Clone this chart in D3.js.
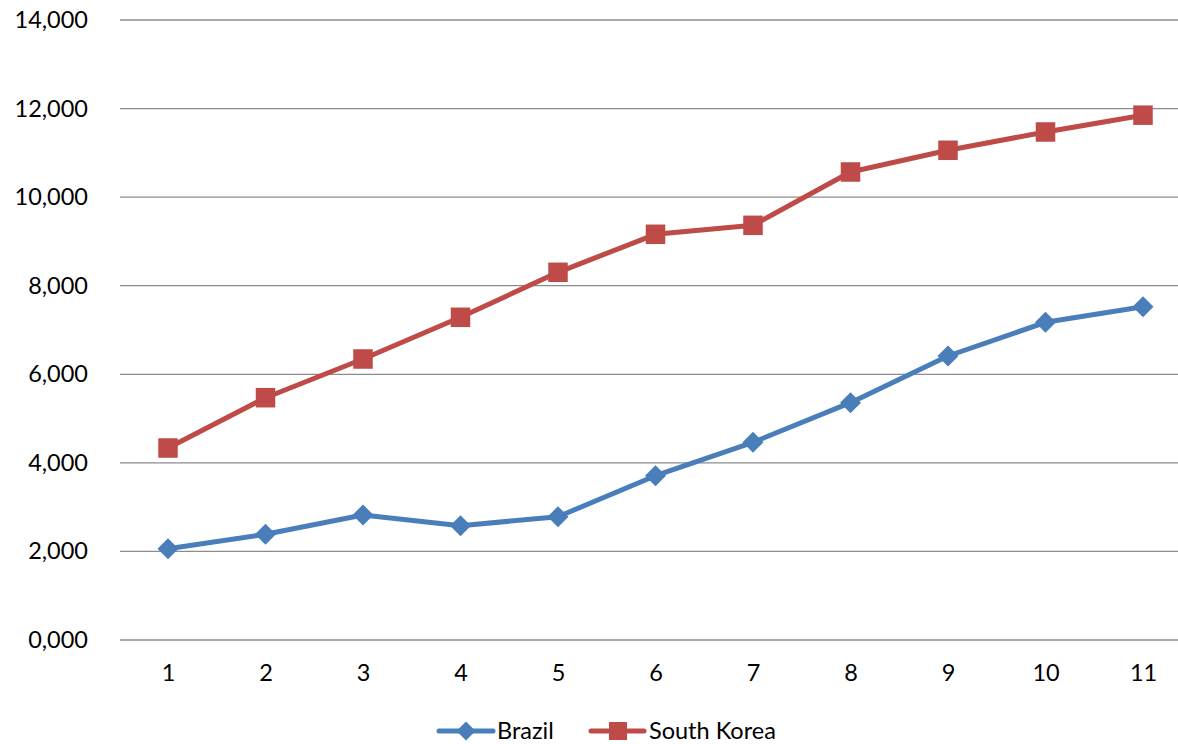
<!DOCTYPE html>
<html>
<head>
<meta charset="utf-8">
<script src="https://cdn.jsdelivr.net/npm/d3@7"></script>
<style>
  html, body { margin: 0; padding: 0; background: #fff; }
  svg text { font-family: Lato, "Open Sans", sans-serif; fill: #000; }
</style>
</head>
<body>
<svg id="chart" width="1178" height="744"></svg>
<script>
// Categories along the x axis
const categories = [1, 2, 3, 4, 5, 6, 7, 8, 9, 10, 11];

// Series values
const brazil = [2062, 2387, 2823, 2581, 2784, 3710, 4464, 5359, 6413, 7174, 7526];
const southKorea = [4335, 5471, 6345, 7287, 8303, 9161, 9364, 10568, 11058, 11471, 11851];

// Y axis tick values
const yTicks = [0, 2000, 4000, 6000, 8000, 10000, 12000, 14000];

const seriesNames = ["Brazil", "South Korea"];

const svg = d3.select("#chart");
const plotLeft = 120, plotRight = 1178, plotTop = 20, plotBottom = 640;
const fontSize = 23.5;

const x = d3.scalePoint().domain(categories).range([168, 1143]);
const y = d3.scaleLinear().domain([0, 14000]).range([plotBottom, plotTop]);

// Horizontal gridlines
svg.append("g").selectAll("line").data(yTicks).join("line")
  .attr("x1", plotLeft).attr("x2", plotRight)
  .attr("y1", d => y(d)).attr("y2", d => y(d))
  .attr("stroke", "#8c8c8c").attr("stroke-width", 1.3);

// Y axis labels
const yAxis = d3.axisLeft(y).tickValues(yTicks).tickSize(0).tickPadding(0)
  .tickFormat(d => d === 0 ? "0,000" : d3.format(",")(d));
const gy = svg.append("g").attr("transform", "translate(88,0)").call(yAxis);
gy.select(".domain").remove();
gy.selectAll("text").attr("font-size", fontSize).attr("font-family", "Lato, 'Open Sans', sans-serif").attr("fill", "#000");

// X axis labels
const xAxis = d3.axisBottom(x).tickSize(0).tickPadding(0);
const gx = svg.append("g").attr("transform", `translate(0,${plotBottom + 24})`).call(xAxis);
gx.select(".domain").remove();
gx.selectAll("text").attr("font-size", fontSize).attr("font-family", "Lato, 'Open Sans', sans-serif").attr("fill", "#000");

const blue = "#4a7ebb", red = "#be4b48";
const line = d3.line().x((d, i) => x(categories[i])).y(d => y(d));

function diamond(g, cx, cy, r) {
  g.append("path")
    .attr("d", `M${cx},${cy - r}L${cx + r},${cy}L${cx},${cy + r}L${cx - r},${cy}Z`)
    .attr("fill", blue);
}
function square(g, cx, cy, s) {
  g.append("rect").attr("x", cx - s / 2).attr("y", cy - s / 2)
    .attr("width", s).attr("height", s).attr("fill", red);
}

// Brazil series
svg.append("path").datum(brazil).attr("d", line)
  .attr("fill", "none").attr("stroke", blue).attr("stroke-width", 5).attr("stroke-linejoin", "round");
const gb = svg.append("g");
brazil.forEach((v, i) => diamond(gb, x(categories[i]), y(v), 10.5));

// South Korea series
svg.append("path").datum(southKorea).attr("d", line)
  .attr("fill", "none").attr("stroke", red).attr("stroke-width", 5).attr("stroke-linejoin", "round");
const gk = svg.append("g");
southKorea.forEach((v, i) => square(gk, x(categories[i]), y(v), 19.5));

// Legend
const legY = 731;
const leg = svg.append("g");
leg.append("line").attr("x1", 439).attr("x2", 493).attr("y1", legY).attr("y2", legY)
  .attr("stroke", blue).attr("stroke-width", 5).attr("stroke-linecap", "round");
diamond(leg, 466, legY, 9.5);
leg.append("text").attr("x", 497).attr("y", legY).attr("dy", "0.35em")
  .attr("font-size", fontSize).text(seriesNames[0]);

leg.append("line").attr("x1", 591).attr("x2", 644).attr("y1", legY).attr("y2", legY)
  .attr("stroke", red).attr("stroke-width", 5).attr("stroke-linecap", "round");
square(leg, 618, legY, 18);
leg.append("text").attr("x", 649).attr("y", legY).attr("dy", "0.35em")
  .attr("font-size", fontSize).text(seriesNames[1]);
</script>
</body>
</html>
